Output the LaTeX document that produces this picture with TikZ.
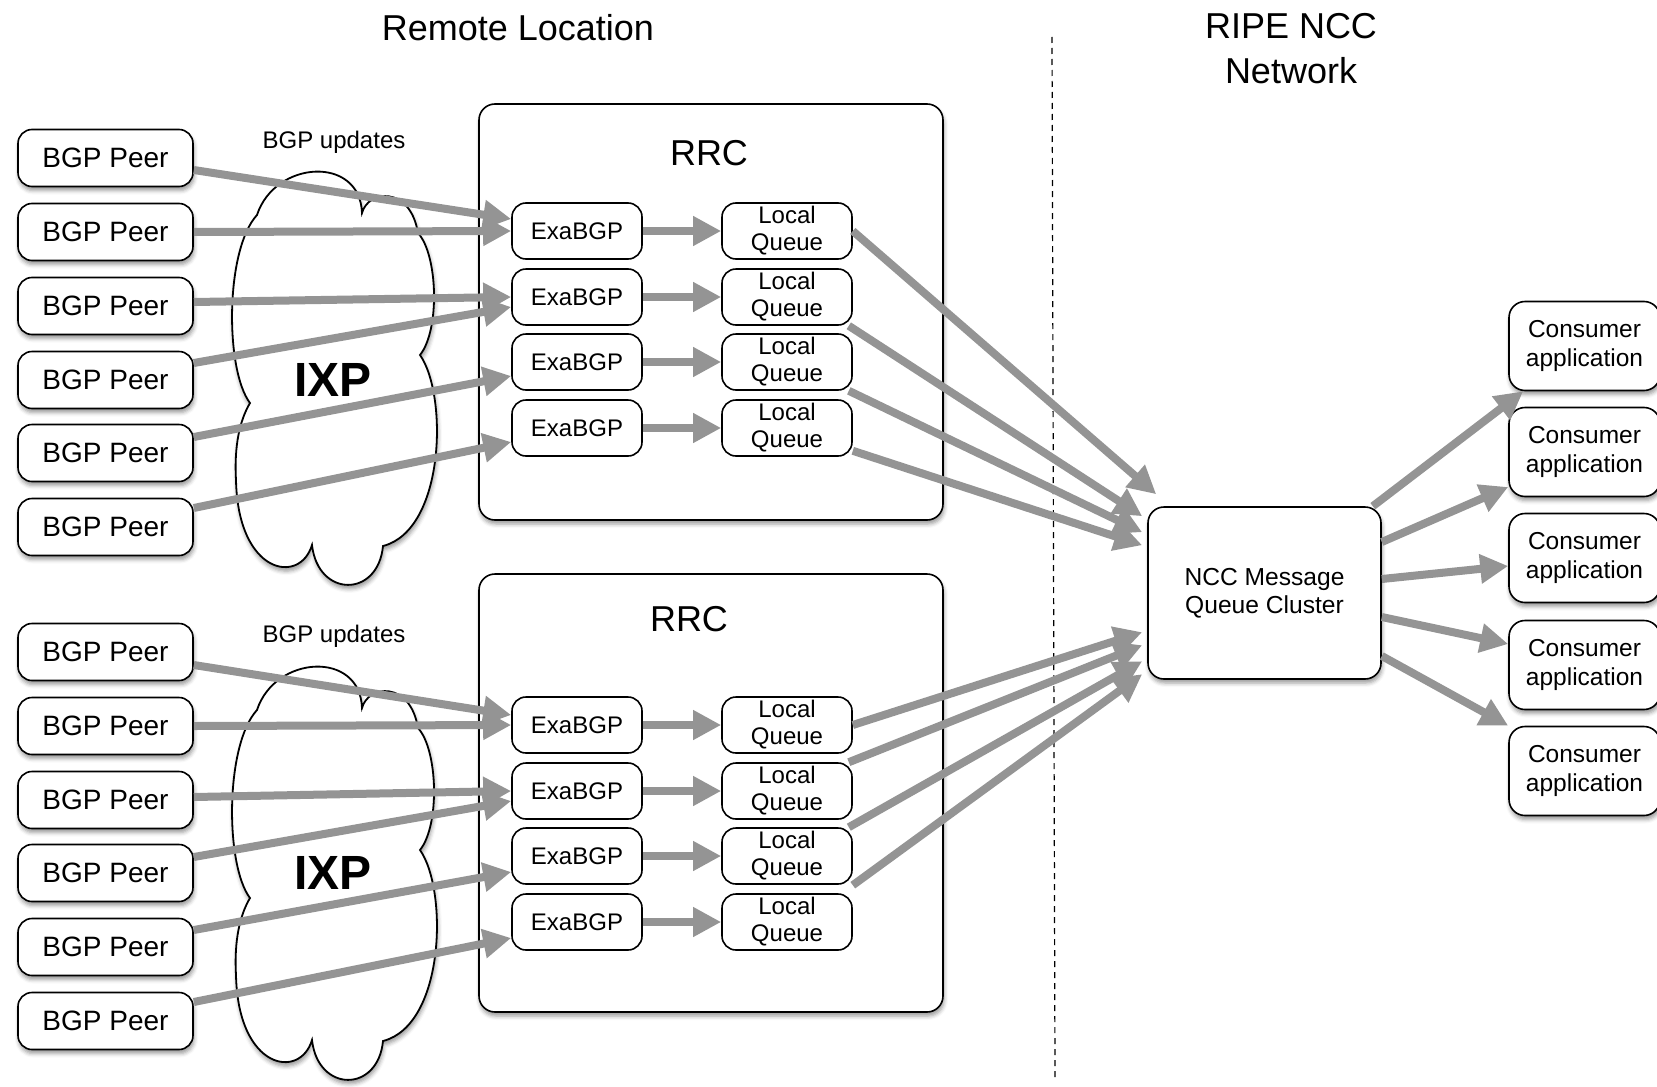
\documentclass[tikz,border=0pt]{standalone}
\usepackage{fontspec}
\setmainfont{Liberation Sans}
\usetikzlibrary{arrows.meta,shadows.blur}

\begin{document}
\begin{tikzpicture}[x=0.5pt,y=-0.5pt,
  softshadow/.style={blur shadow={shadow xshift=0.5pt,shadow yshift=-2pt,shadow blur radius=2pt}},
  peer/.style={draw,fill=white,rounded corners=7pt,line width=0.8pt,minimum width=87.5pt,minimum height=28.5pt,inner sep=0pt,font=\fontsize{14}{16}\selectfont,softshadow},
  stage/.style={draw,fill=white,rounded corners=7pt,line width=0.8pt,minimum width=65pt,minimum height=28pt,inner sep=0pt,align=center,font=\fontsize{12}{13.5}\selectfont},
  rrc/.style={draw,fill=white,rounded corners=8pt,line width=0.8pt,minimum width=232pt,inner sep=0pt,softshadow},
  app/.style={draw,fill=white,rounded corners=8pt,line width=0.8pt,minimum width=75.5pt,minimum height=44.5pt,inner sep=0pt,align=center,font=\fontsize{12.25}{14.5}\selectfont,softshadow},
  flow/.style={draw=black!42,line width=4pt,-{Triangle[length=14pt,width=14pt]}},
  ixp/.pic={\draw[fill=white,line width=0.9pt,softshadow] (257,215) .. controls (275,160) and (360,155) .. (362,213)
      .. controls (368,190) and (410,185) .. (418,233) .. controls (438,255) and (440,330) .. (420,355)
      .. controls (448,395) and (445,530) .. (383,546) .. controls (378,598) and (318,598) .. (312,545)
      .. controls (300,585) and (238,575) .. (236,480) .. controls (234,445) and (240,420) .. (250,403)
      .. controls (225,370) and (225,250) .. (257,215) -- cycle;}]
\useasboundingbox (0,0) rectangle (1657,1086);

\pic at (0,0) {ixp};
\pic at (0,495) {ixp};
\node[rrc,minimum height=208pt] (rrcA) at (711,312) {};
\node[rrc,minimum height=219pt] (rrcB) at (711,793) {};

\node[font=\fontsize{18}{22}\selectfont] (remote) at (518,28) {Remote Location};
\node[font=\fontsize{18}{22.5}\selectfont,align=center] (ripe) at (1291,49) {RIPE NCC\\Network};
\draw[dash pattern=on 3pt off 2.5pt,line width=0.6pt] (1052,37) -- (1055,1078);

\node[font=\fontsize{12}{14}\selectfont] (updA) at (334,142) {BGP updates};
\node[font=\fontsize{12}{14}\selectfont] (updB) at (334,636) {BGP updates};
\node[font=\bfseries\fontsize{24}{28}\selectfont] (ixpA) at (333,380) {IXP};
\node[font=\bfseries\fontsize{24}{28}\selectfont] (ixpB) at (333,873) {IXP};
\node[font=\fontsize{18}{22}\selectfont] (rrcAtitle) at (709,153) {RRC};
\node[font=\fontsize{18}{22}\selectfont] (rrcBtitle) at (689,619) {RRC};

\node[peer] (pA1) at (105.5,158) {BGP Peer};
\node[peer] (pA2) at (105.5,232) {BGP Peer};
\node[peer] (pA3) at (105.5,306) {BGP Peer};
\node[peer] (pA4) at (105.5,380) {BGP Peer};
\node[peer] (pA5) at (105.5,453) {BGP Peer};
\node[peer] (pA6) at (105.5,527) {BGP Peer};
\node[peer] (pB1) at (105.5,652) {BGP Peer};
\node[peer] (pB2) at (105.5,726) {BGP Peer};
\node[peer] (pB3) at (105.5,800) {BGP Peer};
\node[peer] (pB4) at (105.5,873) {BGP Peer};
\node[peer] (pB5) at (105.5,947) {BGP Peer};
\node[peer] (pB6) at (105.5,1021) {BGP Peer};

\node[stage] (eA1) at (577,231) {ExaBGP};
\node[stage] (eA2) at (577,297) {ExaBGP};
\node[stage] (eA3) at (577,362) {ExaBGP};
\node[stage] (eA4) at (577,428) {ExaBGP};
\node[stage] (qA1) at (787,231) {Local\\Queue};
\node[stage] (qA2) at (787,297) {Local\\Queue};
\node[stage] (qA3) at (787,362) {Local\\Queue};
\node[stage] (qA4) at (787,428) {Local\\Queue};
\node[stage] (eB1) at (577,725) {ExaBGP};
\node[stage] (eB2) at (577,791) {ExaBGP};
\node[stage] (eB3) at (577,856) {ExaBGP};
\node[stage] (eB4) at (577,922) {ExaBGP};
\node[stage] (qB1) at (787,725) {Local\\Queue};
\node[stage] (qB2) at (787,791) {Local\\Queue};
\node[stage] (qB3) at (787,856) {Local\\Queue};
\node[stage] (qB4) at (787,922) {Local\\Queue};

\node[app,minimum width=116.5pt,minimum height=86pt,font=\fontsize{12.3}{14}\selectfont] (ncc) at (1264.5,593) {NCC Message\\Queue Cluster};

\node[app] (app1) at (1584.5,346) {Consumer\\application};
\node[app] (app2) at (1584.5,452) {Consumer\\application};
\node[app] (app3) at (1584.5,558) {Consumer\\application};
\node[app] (app4) at (1584.5,665) {Consumer\\application};
\node[app] (app5) at (1584.5,771) {Consumer\\application};

\draw[flow] ([yshift=-6pt]pA1.east) -- ([yshift=6pt]eA1.west);
\draw[flow] (pA2.east) -- (eA1.west);
\draw[flow] ([yshift=2pt]pA3.east) -- (eA2.west);
\draw[flow] ([yshift=8.5pt]pA4.east) -- ([yshift=-5pt]eA2.west);
\draw[flow] ([yshift=8pt]pA5.east) -- ([yshift=-7pt]eA3.west);
\draw[flow] ([yshift=9.5pt]pA6.east) -- ([yshift=-7pt]eA4.west);

\draw[flow] ([yshift=-6.5pt]pB1.east) -- ([yshift=5pt]eB1.west);
\draw[flow] (pB2.east) -- (eB1.west);
\draw[flow] ([yshift=1.5pt]pB3.east) -- (eB2.west);
\draw[flow] ([yshift=8pt]pB4.east) -- ([yshift=-5pt]eB2.west);
\draw[flow] ([yshift=8.5pt]pB5.east) -- ([yshift=-8pt]eB3.west);
\draw[flow] ([yshift=9.5pt]pB6.east) -- ([yshift=-8pt]eB4.west);

\draw[flow] (eA1.east) -- (qA1.west);
\draw[flow] (eA2.east) -- (qA2.west);
\draw[flow] (eA3.east) -- (qA3.west);
\draw[flow] (eA4.east) -- (qA4.west);
\draw[flow] (eB1.east) -- (qB1.west);
\draw[flow] (eB2.east) -- (qB2.west);
\draw[flow] (eB3.east) -- (qB3.west);
\draw[flow] (eB4.east) -- (qB4.west);

\draw[flow] (qA1.east) -- ([xshift=4.5pt,yshift=6pt]ncc.north west);
\draw[flow] ([xshift=-2pt]qA2.south east) -- ([xshift=-2.5pt,yshift=-5pt]ncc.north west);
\draw[flow] ([xshift=-2pt]qA3.south east) -- ([xshift=-2.5pt,yshift=-13pt]ncc.north west);
\draw[flow] ([yshift=3pt]qA4.south east) -- ([xshift=-2.5pt,yshift=-19.5pt]ncc.north west);
\draw[flow] (qB1.east) -- ([xshift=-2.5pt,yshift=-63pt]ncc.north west);
\draw[flow] ([xshift=-2pt]qB2.north east) -- ([xshift=-2.5pt,yshift=-69.5pt]ncc.north west);
\draw[flow] ([xshift=-2pt]qB3.north east) -- ([xshift=-2.5pt,yshift=-77.5pt]ncc.north west);
\draw[flow] ([yshift=4pt]qB4.north east) -- ([xshift=-2.5pt,yshift=-84pt]ncc.north west);

\draw[flow] ([xshift=-4.5pt]ncc.north east) -- ([xshift=7.5pt]app1.south west);
\draw[flow] ([yshift=25.5pt]ncc.east) -- ([yshift=-17.5pt]app2.west);
\draw[flow] ([yshift=7pt]ncc.east) -- ([yshift=-4pt]app3.west);
\draw[flow] ([yshift=-12pt]ncc.east) -- ([yshift=10.5pt]app4.west);
\draw[flow] ([yshift=-31.5pt]ncc.east) -- (app5.north west);
\end{tikzpicture}
\end{document}
